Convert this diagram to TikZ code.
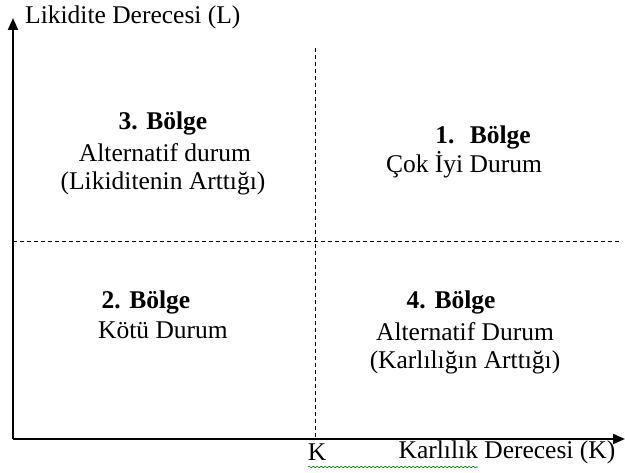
\documentclass[tikz,border=0pt]{standalone}
\usepackage{fontspec}
\setmainfont{Liberation Serif}
\usetikzlibrary{arrows.meta,decorations.pathmorphing}
\begin{document}
\begin{tikzpicture}[x=1pt,y=-1pt,
  axis/.style={line width=2pt,-{Triangle[length=12pt,width=10pt]}},
  divider/.style={line width=0.9pt,dash pattern=on 4pt off 3pt},
  txt/.style={inner sep=0pt,font=\fontsize{25.5}{30}\selectfont},
  head/.style={txt,font=\fontsize{25.5}{30}\selectfont\bfseries},
  squiggle/.style={draw=green!55!black,line width=0.6pt,
    decorate,decoration={snake,amplitude=0.8pt,segment length=4pt}}]
  \useasboundingbox (0,0) rectangle (625,473);
  % axes
  \coordinate (O) at (13,439);
  \coordinate (ytop) at (13,18);
  \coordinate (xend) at (625,439);
  \draw[axis] (O) -- (ytop);
  \draw[axis] (O) -- (xend);
  % quadrant dividers
  \coordinate (vtop) at (315,48);
  \coordinate (vbot) at (315,439);
  \coordinate (hleft) at (13,241);
  \coordinate (hright) at (622,241);
  \draw[divider] (vtop) -- (vbot);
  \draw[divider] (hleft) -- (hright);
  % axis labels
  \node[txt,anchor=west] (ylab) at (25,17) {Likidite Derecesi (L)};
  \node[txt] (kmark) at (317,452) {K};
  \node[txt] (xlab) at (507,452) {Karlılık Derecesi (K)};
  \coordinate (sqA) at (308,467);
  \coordinate (sqB) at (478,467);
  \draw[squiggle] (sqA) -- (sqB);
  % region 3
  \node[head] (r3h) at (163,123) {3. Bölge};
  \node[txt] (r3a) at (165,153) {Alternatif durum};
  \node[txt] (r3b) at (163,183) {(Likiditenin Arttığı)};
  % region 1
  \node[head] (r1h) at (483,137) {1.\hspace{0.6em}Bölge};
  \node[txt] (r1a) at (464,165) {Çok İyi Durum};
  % region 2
  \node[head] (r2h) at (146,302) {2. Bölge};
  \node[txt] (r2a) at (163,330) {Kötü Durum};
  % region 4
  \node[head] (r4h) at (451,302) {4.\hspace{0.35em}Bölge};
  \node[txt] (r4a) at (465,332) {Alternatif Durum};
  \node[txt] (r4b) at (465,362) {(Karlılığın Arttığı)};
\end{tikzpicture}
\end{document}
